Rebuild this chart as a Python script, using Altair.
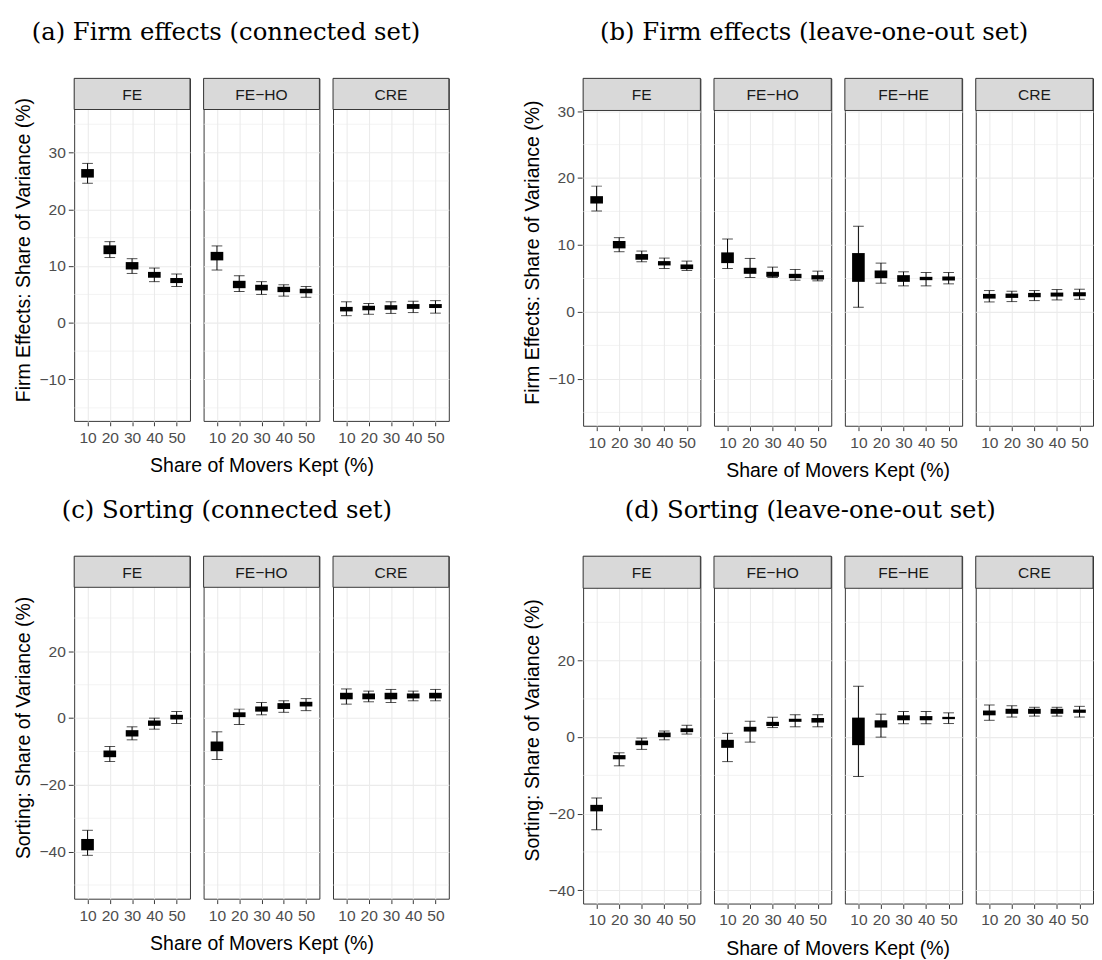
import altair as alt
import pandas as pd

# Share of movers kept (%)
K = [10, 20, 30, 40, 50]

# Each entry: (lower whisker, Q1, Q3, upper whisker) for K = 10..50
# (a) Firm effects (connected set)
A_FE = [(24.6, 25.6, 27.1, 28.1), (11.5, 12.1, 13.65, 14.3), (8.7, 9.4, 10.7, 11.3),
        (7.25, 7.94, 8.97, 9.65), (6.4, 7.0, 7.9, 8.6)]
A_FEHO = [(9.3, 11.0, 12.5, 13.55), (5.5, 6.1, 7.4, 8.3), (5.0, 5.7, 6.7, 7.25),
          (4.7, 5.4, 6.35, 6.7), (4.5, 5.2, 6.0, 6.4)]
A_CRE = [(1.25, 2.0, 2.8, 3.7), (1.5, 2.2, 3.0, 3.4), (1.65, 2.3, 3.1, 3.7),
         (1.8, 2.45, 3.3, 3.8), (1.7, 2.6, 3.3, 3.9)]

# (b) Firm effects (leave-one-out set)
B_FE = [(15.1, 16.2, 17.3, 18.8), (9.0, 9.5, 10.6, 11.1), (7.5, 7.8, 8.65, 9.1),
        (6.5, 6.95, 7.6, 8.05), (6.2, 6.4, 7.1, 7.6)]
B_FEHO = [(6.5, 7.3, 8.9, 10.9), (5.15, 5.7, 6.6, 8.0), (5.15, 5.25, 6.0, 6.7),
          (4.75, 5.05, 5.7, 6.35), (4.65, 4.85, 5.5, 6.1)]
B_FEHE = [(0.7, 4.5, 8.8, 12.8), (4.3, 5.05, 6.2, 7.3), (3.9, 4.5, 5.5, 6.0),
          (3.9, 4.75, 5.25, 5.9), (4.2, 4.7, 5.3, 5.9)]
B_CRE = [(1.5, 2.0, 2.7, 3.2), (1.55, 2.1, 2.75, 3.1), (1.7, 2.2, 2.85, 3.2),
         (1.8, 2.3, 2.9, 3.35), (1.9, 2.35, 2.95, 3.4)]

# (c) Sorting (connected set)
C_FE = [(-41.1, -39.6, -36.2, -33.6), (-13.0, -11.7, -9.7, -8.5), (-6.5, -5.5, -3.6, -2.6),
        (-3.3, -2.3, -0.7, 0.0), (-1.6, -0.4, 1.0, 2.0)]
C_FEHO = [(-12.4, -9.9, -7.0, -4.1), (-1.9, 0.3, 1.75, 2.7), (1.0, 1.95, 3.5, 4.7),
          (1.75, 2.75, 4.5, 5.2), (2.25, 3.5, 4.9, 5.85)]
C_CRE = [(4.2, 5.65, 7.6, 8.75), (4.9, 5.65, 7.4, 8.1), (4.7, 5.65, 7.6, 8.6),
         (5.2, 5.9, 7.4, 8.1), (5.2, 5.9, 7.6, 8.6)]

# (d) Sorting (leave-one-out set)
D_FE = [(-24.2, -19.4, -17.7, -15.9), (-7.5, -5.8, -4.7, -4.1), (-3.2, -2.1, -0.9, -0.25),
        (-0.7, 0.0, 1.2, 1.6), (0.8, 1.3, 2.3, 3.1)]
D_FEHO = [(-6.4, -2.8, -0.7, 1.0), (-1.3, 1.45, 2.7, 4.15), (2.5, 2.9, 4.0, 5.2),
          (2.7, 4.0, 4.8, 5.85), (2.7, 3.8, 5.0, 5.85)]
D_FEHE = [(-10.3, -2.1, 5.1, 13.3), (0.0, 2.5, 4.4, 6.0), (3.5, 4.4, 5.7, 6.7),
          (3.5, 4.4, 5.5, 6.7), (3.55, 4.7, 5.3, 6.35)]
D_CRE = [(4.4, 5.7, 6.95, 8.4), (5.25, 6.1, 7.4, 8.2), (5.5, 6.1, 7.4, 7.8),
         (5.5, 6.1, 7.4, 7.8), (5.25, 6.35, 7.2, 8.05)]

METHODS_3 = ["FE", "FE\u2212HO", "CRE"]
METHODS_4 = ["FE", "FE\u2212HO", "FE\u2212HE", "CRE"]

SERIF = "DejaVu Serif"
SANS = "Liberation Sans"
INK = "#333333"
GRID = "#EBEBEB"
TICKLAB = "#4D4D4D"


def build_df(methods, series):
    rows = []
    for m, s in zip(methods, series):
        for k, (lo, q1, q3, hi) in zip(K, s):
            rows.append(dict(method=m, k=k, lo=lo, q1=q1, q3=q3, hi=hi))
    return pd.DataFrame(rows)


def make_panel(title, ytitle, methods, series, ylo, yhi, major, minor,
               cell_w, spacing, panel_h, strip_h, title_offset, title_dx):
    df = build_df(methods, series)
    total_h = panel_h + strip_h
    ytop = yhi + (yhi - ylo) * strip_h / panel_h
    yscale = alt.Scale(domain=[ylo, ytop], nice=False, zero=False)
    yaxis = alt.Axis(title=ytitle, values=major, grid=True, gridColor=GRID, gridWidth=1.1,
                     domain=False, tickColor=INK, tickSize=5, labelPadding=3,
                     labelFontSize=16, labelColor=TICKLAB, labelFont=SANS,
                     titleFont=SANS, titleFontSize=20, titleFontWeight="normal",
                     titleColor="black", titlePadding=6)
    xenc = alt.X("k:O", sort=K, scale=alt.Scale(type="point", padding=0.6),
                 axis=alt.Axis(title=None, labelAngle=0, grid=True, gridColor=GRID,
                               gridWidth=1.1, domain=False, tickColor=INK, tickSize=4,
                               labelPadding=4, labelFontSize=16, labelColor=TICKLAB,
                               labelFont=SANS))

    def Y(field):
        return alt.Y(field, scale=yscale, axis=yaxis)

    first = alt.datum.k == K[0]
    base = alt.Chart()
    minor_layer = (base.transform_filter(first)
                   .transform_calculate(minor=str(minor))
                   .transform_flatten(["minor"])
                   .mark_rule(color=GRID, strokeWidth=0.6)
                   .encode(y=Y("minor:Q"), x=alt.value(0), x2=alt.value(cell_w)))
    whisker = base.mark_rule(color="black", strokeWidth=1).encode(
        x=xenc, y=Y("lo:Q"), y2="hi:Q")
    cap_lo = base.mark_tick(color="black", size=11, thickness=1).encode(x=xenc, y=Y("lo:Q"))
    cap_hi = base.mark_tick(color="black", size=11, thickness=1).encode(x=xenc, y=Y("hi:Q"))
    box = base.mark_bar(color="black", size=13).encode(x=xenc, y=Y("q1:Q"), y2="q3:Q")
    strip_rect = (base.transform_filter(first)
                  .mark_rect(fill="#D9D9D9", stroke=INK, strokeWidth=1)
                  .encode(x=alt.value(0), x2=alt.value(cell_w),
                          y=alt.value(0), y2=alt.value(strip_h)))
    strip_text = (base.transform_filter(first)
                  .mark_text(font=SANS, fontSize=16, color="#1A1A1A",
                             baseline="middle", align="center")
                  .encode(x=alt.value(cell_w / 2), y=alt.value(strip_h / 2 + 1),
                          text="method:N"))

    layered = alt.layer(minor_layer, whisker, cap_lo, cap_hi, box, strip_rect, strip_text,
                        data=df).properties(width=cell_w, height=total_h)

    return layered.facet(
        column=alt.Column("method:N", sort=methods,
                          header=alt.Header(labels=False, title="Share of Movers Kept (%)",
                                            titleOrient="bottom", titleFont=SANS,
                                            titleFontSize=20, titleFontWeight="normal",
                                            titleColor="black", titlePadding=2)),
        spacing=spacing,
    ).properties(title=alt.TitleParams(title, font=SERIF, fontSize=25, fontWeight="normal",
                                       color="black", anchor="middle", offset=title_offset,
                                       dx=title_dx))


pa = make_panel("(a) Firm effects (connected set)", "Firm Effects: Share of Variance (%)",
                METHODS_3, [A_FE, A_FEHO, A_CRE], -17.3, 37.6,
                [-10, 0, 10, 20, 30], [-15, -5, 5, 15, 25, 35], 119, 12, 320, 32, 33, -6)
pb = make_panel("(b) Firm effects (leave-one-out set)", "Firm Effects: Share of Variance (%)",
                METHODS_4, [B_FE, B_FEHO, B_FEHE, B_CRE], -17.0, 30.1,
                [-10, 0, 10, 20, 30], [-15, -5, 5, 15, 25], 120.5, 11.5, 324, 33, 33, 6)
pc = make_panel("(c) Sorting (connected set)", "Sorting: Share of Variance (%)",
                METHODS_3, [C_FE, C_FEHO, C_CRE], -54.1, 39.2,
                [-40, -20, 0, 20], [-50, -30, -10, 10, 30], 119, 12, 320, 32, 33, -5)
pd_ = make_panel("(d) Sorting (leave-one-out set)", "Sorting: Share of Variance (%)",
                 METHODS_4, [D_FE, D_FEHO, D_FEHE, D_CRE], -43.5, 38.9,
                 [-40, -20, 0, 20], [-30, -10, 10, 30], 120.5, 11.5, 324, 33, 33, 2)

chart = alt.vconcat(
    alt.hconcat(pa, pb, spacing=74),
    alt.hconcat(pc, pd_, spacing=74),
    spacing=18,
).properties(
    padding={"left": 5, "top": 0, "right": 0, "bottom": 0},
    background="white",
).configure_view(stroke=INK, strokeWidth=1)

chart.save("out.html", embed_options={"renderer": "svg", "actions": False})
